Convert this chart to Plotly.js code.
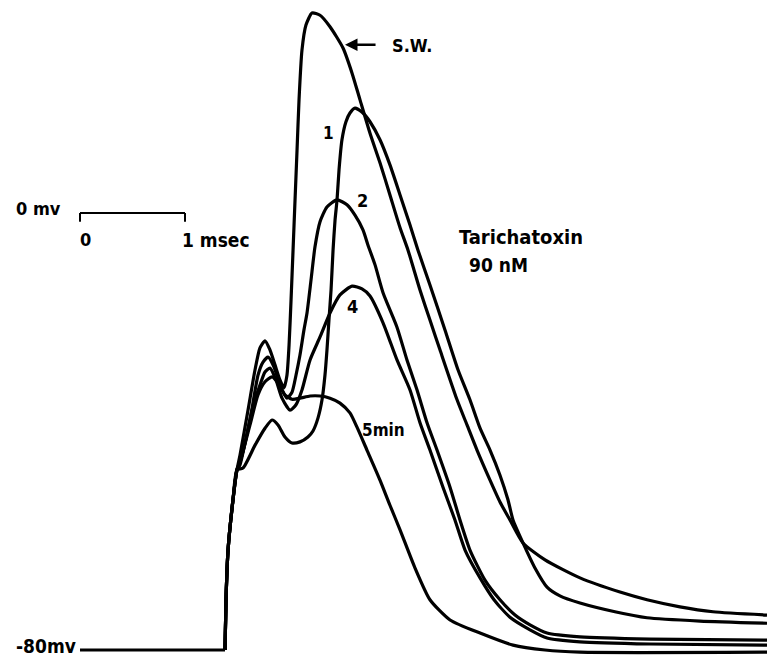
<!DOCTYPE html>
<html>
<head>
<meta charset="utf-8">
<script src="https://cdn.plot.ly/plotly-3.0.1.min.js"></script>
<style>html,body{margin:0;padding:0;background:#fff;}#chart{width:767px;height:660px;}</style>
</head>
<body>
<div id="chart"></div>
<script>
// time in ms after stimulus, membrane potential in mV
const baselineT = [-1.381, 0];
const baselineV = [-80, -80];
const riseT = [0, 0.0095, 0.029, 0.076, 0.114];
const riseV = [-80, -70.8, -61.7, -52.5, -47.0];

const swT = [0.143,0.219,0.286,0.333,0.381,0.429,0.476,0.524,0.562,0.590,0.610,0.629,0.648,0.667,0.686,0.705,0.733,0.771,0.829,0.905,1.000,1.124,1.210,1.286,1.381,1.476,1.571,1.667,1.743,1.857,1.952,2.048,2.210,2.305,2.400,2.524,2.619,2.714,2.838,3.048,3.381,3.762,4.019,4.333,4.648,5.162];
const swV = [-44.3,-36.1,-28.7,-24.7,-23.4,-25.1,-27.8,-30.6,-32.0,-29.7,-24.2,-15.9,-6.8,2.4,11.5,20.7,29.8,34.4,36.6,36.2,34.1,30.2,25.6,20.7,14.6,9.2,3.3,-2.7,-6.8,-14.1,-19.6,-25.1,-34.2,-38.8,-43.4,-48.9,-52.9,-56.2,-60.4,-63.5,-66.8,-69.4,-70.8,-72.1,-73.0,-73.6];

const min1T = [0.171,0.286,0.381,0.448,0.505,0.571,0.638,0.714,0.790,0.838,0.886,0.924,0.952,0.971,0.990,1.010,1.029,1.048,1.067,1.086,1.114,1.152,1.190,1.238,1.314,1.381,1.476,1.571,1.667,1.762,1.838,1.952,2.095,2.219,2.333,2.429,2.524,2.619,2.695,2.743,2.838,2.952,3.067,3.190,3.381,3.714,4.019,4.524,5.162];
const min1V = [-46.7,-42.5,-39.4,-37.9,-38.8,-41.0,-42.1,-41.9,-41.0,-39.9,-37.5,-34.2,-29.7,-25.1,-19.6,-14.1,-6.8,-1.3,2.4,7.9,13.4,16.7,18.3,19.2,18.3,16.7,13.4,8.8,3.3,-2.2,-6.8,-13.2,-21.4,-28.7,-34.2,-39.4,-43.4,-48.0,-52.5,-56.2,-60.4,-65.0,-68.5,-70.1,-71.4,-73.0,-74.1,-74.7,-75.1];

const min2T = [0.143,0.238,0.314,0.362,0.410,0.467,0.524,0.590,0.638,0.676,0.714,0.752,0.781,0.819,0.857,0.905,0.971,1.067,1.162,1.238,1.314,1.362,1.429,1.505,1.638,1.733,1.829,1.924,2.019,2.143,2.238,2.333,2.476,2.619,2.762,2.905,3.067,3.381,4.048,5.162];
const min2V = [-45.6,-37.9,-29.7,-27.3,-26.4,-28.2,-31.5,-33.9,-32.8,-29.7,-26.0,-21.4,-18.3,-12.3,-6.2,-1.6,1.1,2.4,1.5,-0.4,-3.1,-5.9,-9.5,-14.6,-20.9,-26.9,-32.4,-38.4,-43.4,-50.2,-56.2,-61.7,-67.2,-70.8,-73.6,-75.4,-76.9,-77.6,-78.0,-78.2];

const min4T = [0.143,0.257,0.333,0.381,0.429,0.486,0.543,0.619,0.676,0.733,0.810,0.905,1.000,1.095,1.210,1.305,1.381,1.505,1.638,1.762,1.857,1.952,2.076,2.190,2.286,2.429,2.562,2.714,2.905,3.067,3.381,4.048,5.162];
const min4V = [-46.1,-36.1,-31.5,-29.1,-28.4,-30.6,-33.9,-36.1,-35.1,-32.4,-26.9,-22.7,-18.3,-15.0,-13.4,-13.9,-15.2,-20.1,-26.9,-32.4,-38.4,-43.4,-50.2,-56.2,-61.7,-66.8,-70.8,-74.0,-76.3,-77.8,-78.5,-78.9,-79.1];

const min5T = [0.143,0.238,0.314,0.381,0.448,0.505,0.571,0.638,0.714,0.810,0.905,1.000,1.095,1.190,1.257,1.352,1.476,1.571,1.667,1.810,1.952,2.143,2.429,2.743,3.048,3.381,5.162];
const min5V = [-45.6,-38.8,-33.3,-30.9,-30.0,-31.1,-33.3,-34.1,-33.9,-33.5,-33.5,-33.9,-34.8,-36.6,-39.2,-43.4,-48.9,-53.5,-58.0,-65.0,-70.8,-74.5,-76.9,-79.1,-80.0,-80.4,-80.4];

const curveNames = ['S.W.', '1', '2', '4', '5min'];
const curveT = [swT, min1T, min2T, min4T, min5T];
const curveV = [swV, min1V, min2V, min4V, min5V];

// scale bar: 1 ms at 0 mV level
const scaleBarStart = -1.381;
const scaleBarLength = 1;

const INK = '#000';
const FONT = 'DejaVu Sans Condensed, Liberation Sans Narrow, DejaVu Sans, sans-serif';

const traces = [{
  x: baselineT, y: baselineV, mode: 'lines', type: 'scatter',
  line: {color: INK, width: 3.2}, hoverinfo: 'skip', showlegend: false
}];
curveT.forEach((t, i) => {
  traces.push({
    x: riseT.concat(t), y: riseV.concat(curveV[i]),
    name: curveNames[i], mode: 'lines', type: 'scatter',
    line: {color: INK, width: 3.2, shape: 'spline', smoothing: 0.6},
    showlegend: false
  });
});

const ann = (x, y, text, size, extra) => Object.assign({
  x: x, y: y, xref: 'x', yref: 'y', text: text, showarrow: false,
  font: {family: FONT, size: size, color: INK, weight: 'bold'}
}, extra || {});

const layout = {
  width: 767, height: 660,
  margin: {l: 0, r: 0, t: 0, b: 0},
  paper_bgcolor: '#fff', plot_bgcolor: '#fff',
  xaxis: {visible: false, range: [-2.143, 5.162], fixedrange: true},
  yaxis: {visible: false, range: [-81.83, 38.99], fixedrange: true},
  shapes: [
    {type: 'line', xref: 'x', yref: 'y', x0: scaleBarStart, x1: scaleBarStart + scaleBarLength, y0: 0, y1: 0, line: {color: INK, width: 2}},
    {type: 'line', xref: 'x', yref: 'y', x0: scaleBarStart, x1: scaleBarStart, y0: 0, y1: -1.6, line: {color: INK, width: 2}},
    {type: 'line', xref: 'x', yref: 'y', x0: scaleBarStart + scaleBarLength, x1: scaleBarStart + scaleBarLength, y0: 0, y1: -1.6, line: {color: INK, width: 2}}
  ],
  annotations: [
    ann(-1.781, 0.8, '0 mv', 18),
    ann(-1.333, -4.9, '0', 18),
    ann(-0.43, -4.9, '1 msec', 19, {xanchor: 'left'}),
    ann(-1.40, -79.3, '-80mv', 19, {xanchor: 'right'}),
    ann(1.571, 30.6, 'S.W.', 18, {xanchor: 'left'}),
    {x: 1.143, y: 30.8, ax: 1.448, ay: 30.8, axref: 'x', ayref: 'y', xref: 'x', yref: 'y',
     text: '', showarrow: true, arrowhead: 2, arrowsize: 1, arrowwidth: 2.5, arrowcolor: INK},
    ann(0.981, 14.6, '1', 17),
    ann(1.305, 2.2, '2', 18),
    ann(1.210, -17.2, '4', 18),
    ann(1.514, -39.7, '5min', 17),
    ann(2.82, -4.4, 'Tarichatoxin', 20),
    ann(2.60, -9.6, '90 nM', 19)
  ]
};

Plotly.newPlot('chart', traces, layout, {staticPlot: true, displayModeBar: false});
</script>
</body>
</html>
